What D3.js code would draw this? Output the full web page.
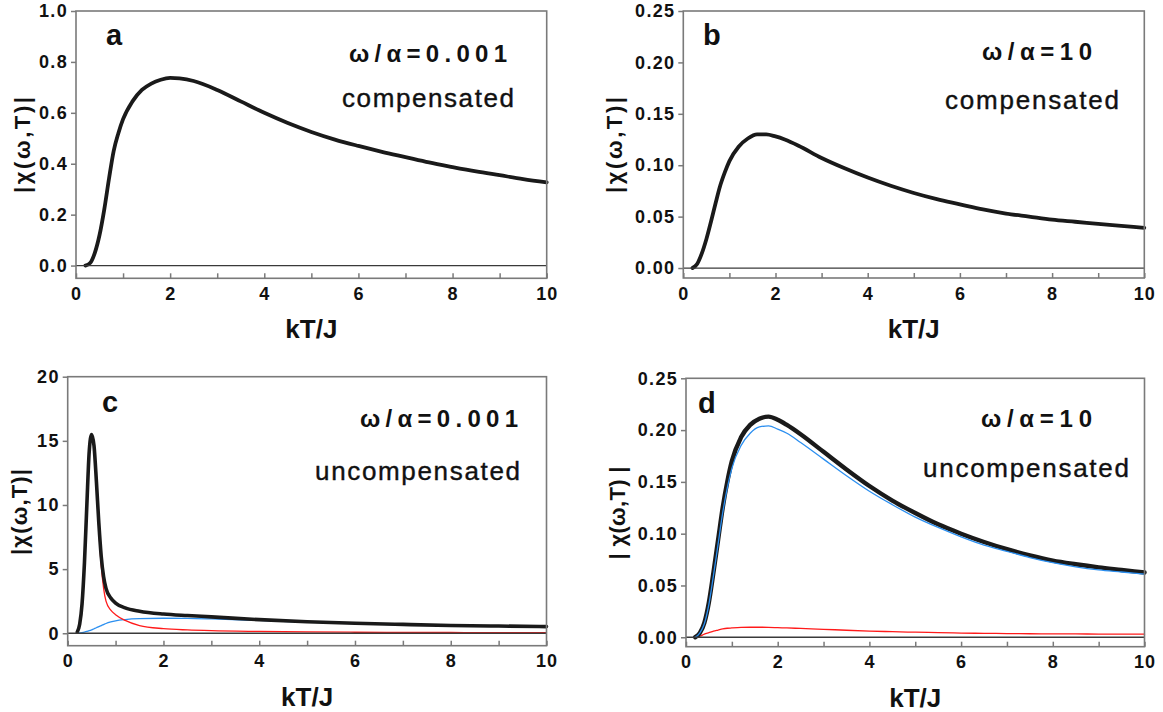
<!DOCTYPE html>
<html>
<head>
<meta charset="utf-8">
<script src="https://cdn.jsdelivr.net/npm/d3@7/dist/d3.min.js"></script>
<style>
  html, body { margin: 0; padding: 0; background: #fff; }
  svg { display: block; }
</style>
</head>
<body>
<svg id="chart" width="1163" height="712"></svg>
<script>
// ---------------- DATA ----------------
const xTicks = [0, 1, 2, 3, 4, 5, 6, 7, 8, 9, 10];
const xTickLabels = ["0", "", "2", "", "4", "", "6", "", "8", "", "10"];

const yTicksA = [0, 0.2, 0.4, 0.6, 0.8, 1.0];
const yTicksB = [0, 0.05, 0.10, 0.15, 0.20, 0.25];
const yTicksC = [0, 5, 10, 15, 20];
const yTicksD = [0, 0.05, 0.10, 0.15, 0.20, 0.25];

// panel a: compensated, w/a = 0.001
const xA = [0.2,0.3,0.4,0.5,0.6,0.7,0.8,0.9,1.0,1.2,1.4,1.6,1.8,2.0,2.2,2.5,3,3.5,4,4.5,5,5.5,6,6.5,7,7.5,8,8.5,9,9.5,10];
const yA = [0.0,0.01,0.05,0.12,0.22,0.34,0.45,0.52,0.575,0.645,0.69,0.715,0.73,0.737,0.735,0.725,0.69,0.645,0.60,0.56,0.525,0.495,0.47,0.447,0.426,0.405,0.387,0.37,0.355,0.34,0.327];

// panel b: compensated, w/a = 10
const xB = [0.2,0.3,0.4,0.5,0.6,0.7,0.8,0.9,1.0,1.2,1.4,1.6,1.8,2.0,2.2,2.5,3,3.5,4,4.5,5,5.5,6,6.5,7,7.5,8,8.5,9,9.5,10];
const yB = [0.0,0.004,0.014,0.028,0.045,0.063,0.080,0.093,0.104,0.118,0.126,0.130,0.130,0.128,0.125,0.119,0.107,0.097,0.088,0.080,0.073,0.067,0.062,0.057,0.053,0.050,0.047,0.045,0.043,0.041,0.039];

// panel c: uncompensated, w/a = 0.001
const xC = [0.2,0.25,0.3,0.35,0.4,0.45,0.5,0.55,0.6,0.65,0.7,0.75,0.8,0.9,1.0,1.2,1.5,2,2.5,3,4,5,6,7,8,9,10];
const cBlack = [0.1,0.7,2.3,5.5,10.0,14.2,15.5,14.6,11.8,8.6,6.0,4.4,3.5,2.75,2.35,1.98,1.72,1.5,1.38,1.28,1.06,0.9,0.78,0.69,0.61,0.56,0.52];
const cRed   = [0.1,0.7,2.3,5.5,10.0,14.2,15.4,14.4,11.4,8.1,5.3,3.5,2.5,1.8,1.45,1.0,0.6,0.36,0.26,0.2,0.14,0.1,0.08,0.07,0.06,0.05,0.05];
const cBlue  = [0.0,0.02,0.05,0.09,0.14,0.2,0.27,0.35,0.43,0.52,0.6,0.68,0.76,0.88,0.97,1.07,1.14,1.17,1.16,1.12,1.0,0.87,0.75,0.66,0.59,0.53,0.49];

// panel d: uncompensated, w/a = 10
const xD = [0.2,0.3,0.4,0.5,0.6,0.7,0.8,0.9,1.0,1.2,1.4,1.6,1.8,2.0,2.2,2.5,3,3.5,4,4.5,5,5.5,6,6.5,7,7.5,8,8.5,9,9.5,10];
const dBlack = [0.0,0.004,0.014,0.034,0.063,0.094,0.125,0.150,0.170,0.193,0.205,0.211,0.213,0.210,0.205,0.196,0.179,0.162,0.146,0.132,0.120,0.109,0.100,0.092,0.085,0.079,0.074,0.0705,0.0675,0.065,0.0625];
const dBlue  = [0.0,0.004,0.013,0.032,0.060,0.090,0.120,0.144,0.163,0.185,0.197,0.203,0.204,0.201,0.197,0.188,0.172,0.156,0.141,0.128,0.116,0.106,0.097,0.089,0.083,0.077,0.072,0.068,0.065,0.063,0.061];
const dRed   = [0.0,0.001,0.003,0.0045,0.006,0.007,0.008,0.0087,0.009,0.0095,0.0097,0.0097,0.0096,0.0093,0.009,0.0085,0.0077,0.0068,0.0060,0.0054,0.0049,0.0045,0.0041,0.0038,0.0036,0.0034,0.0033,0.0032,0.0031,0.003,0.003];

// ---------------- LAYOUT ----------------
const panels = [
  { x0: 76,  x1: 546.7, yTop: 11,    yBot: 278.3, yDomain: [-0.05, 1.0], yTicks: yTicksA, fmt: d3.format(".1f"),
    letter: "a", lx: 106, ly: 45, ylabel: "|χ(ω,T)|", ylx: 22, yly: 145, ylen: 96,
    t1: "ω/α=0.001", t1x: 349, t1y: 62, t1len: 158, t2: "compensated", t2x: 342, t2y: 107, t2len: 172,
    series: [{ x: xA, y: yA, color: "#1a1a1a", w: 3.8 }] },
  { x0: 683.3, x1: 1144.3, yTop: 11, yBot: 278, yDomain: [-0.0097, 0.25], yTicks: yTicksB, fmt: d3.format(".2f"),
    letter: "b", lx: 703, ly: 45, ylabel: "|χ(ω,T)|", ylx: 614, yly: 145, ylen: 96,
    t1: "ω/α=10", t1x: 982, t1y: 60, t1len: 110, t2: "compensated", t2x: 945, t2y: 109, t2len: 174,
    series: [{ x: xB, y: yB, color: "#1a1a1a", w: 3.8 }] },
  { x0: 67.7, x1: 546.5, yTop: 376.7, yBot: 645.7, yDomain: [-0.97, 20], yTicks: yTicksC, fmt: d3.format("d"),
    letter: "c", lx: 102, ly: 412, ylabel: "|χ(ω,T)|", ylx: 19, yly: 512, ylen: 86,
    t1: "ω/α=0.001", t1x: 360, t1y: 427, t1len: 158, t2: "uncompensated", t2x: 315, t2y: 480, t2len: 205,
    series: [{ x: xC, y: cBlue, color: "#2b8ff0", w: 1.3 },
             { x: xC, y: cRed, color: "#ff1a1a", w: 1.3 },
             { x: xC, y: cBlack, color: "#1a1a1a", w: 3.6 }] },
  { x0: 686, x1: 1144.5, yTop: 378.3, yBot: 646.7, yDomain: [-0.0091, 0.25], yTicks: yTicksD, fmt: d3.format(".2f"),
    letter: "d", lx: 698, ly: 413, ylabel: "| χ(ω,T) |", ylx: 617, yly: 513, ylen: 93,
    t1: "ω/α=10", t1x: 981, t1y: 427, t1len: 111, t2: "uncompensated", t2x: 923, t2y: 477, t2len: 206,
    series: [{ x: xD, y: dRed, color: "#ff1a1a", w: 1.3 },
             { x: xD, y: dBlack, color: "#1a1a1a", w: 4.4 },
             { x: xD, y: dBlue, color: "#2b8ff0", w: 1.3 }] }
];

const svg = d3.select("#chart");
const FONT = "'Liberation Sans', Arial, Helvetica, sans-serif";
const frameColor = "#7a7a7a";

panels.forEach(p => {
  const x = d3.scaleLinear().domain([0, 10]).range([p.x0, p.x1]);
  const y = d3.scaleLinear().domain(p.yDomain).range([p.yBot, p.yTop]);
  const g = svg.append("g");

  // curves
  const line = d3.line().x(d => x(d[0])).y(d => y(d[1])).curve(d3.curveMonotoneX);
  p.series.forEach(s => {
    g.append("path")
      .datum(s.x.map((v, i) => [v, s.y[i]]))
      .attr("fill", "none")
      .attr("stroke", s.color)
      .attr("stroke-width", s.w)
      .attr("stroke-linejoin", "round")
      .attr("stroke-linecap", "round")
      .attr("d", line);
  });

  // zero line
  g.append("line")
    .attr("x1", x(0)).attr("x2", x(10))
    .attr("y1", y(0)).attr("y2", y(0))
    .attr("stroke", "#3a3a3a").attr("stroke-width", 1.3);

  // frame
  g.append("rect")
    .attr("x", p.x0).attr("y", p.yTop)
    .attr("width", p.x1 - p.x0).attr("height", p.yBot - p.yTop)
    .attr("fill", "none").attr("stroke", frameColor).attr("stroke-width", 1.6);

  // y axis
  const ya = g.append("g").attr("transform", `translate(${p.x0},0)`)
    .call(d3.axisLeft(y).tickValues(p.yTicks).tickFormat(p.fmt).tickSizeInner(5).tickSizeOuter(0).tickPadding(3));
  ya.select(".domain").remove();
  ya.selectAll(".tick line").attr("stroke", frameColor).attr("stroke-width", 1.5);
  ya.selectAll(".tick text").attr("fill", "#111").style("font-family", FONT)
    .style("font-size", "18px").style("font-weight", "bold").style("letter-spacing", "1.3px");

  // x axis
  const xa = g.append("g").attr("transform", `translate(0,${p.yBot})`)
    .call(d3.axisBottom(x).tickValues(xTicks).tickFormat((d, i) => xTickLabels[i]).tickSizeInner(-5).tickSizeOuter(0).tickPadding(9));
  xa.select(".domain").remove();
  xa.selectAll(".tick line").attr("stroke", frameColor).attr("stroke-width", 1.5);
  xa.selectAll(".tick text").attr("fill", "#111").style("font-family", FONT)
    .style("font-size", "18px").style("font-weight", "bold").style("letter-spacing", "1px");

  // x label
  g.append("text")
    .attr("x", (p.x0 + p.x1) / 2).attr("y", p.yBot + 60)
    .attr("text-anchor", "middle")
    .style("font-family", FONT).style("font-size", "26px").style("font-weight", "bold")
    .attr("fill", "#111").text("kT/J");

  // y label
  g.append("text")
    .attr("transform", `translate(${p.ylx},${p.yly}) rotate(-90)`)
    .attr("text-anchor", "middle").attr("dominant-baseline", "central")
    .attr("textLength", p.ylen).attr("lengthAdjust", "spacing")
    .style("font-family", FONT).style("font-size", "22px").style("font-weight", "bold")
    .attr("fill", "#111").text(p.ylabel);

  // panel letter
  g.append("text")
    .attr("x", p.lx).attr("y", p.ly)
    .style("font-family", FONT).style("font-size", "29px").style("font-weight", "bold")
    .attr("fill", "#111").text(p.letter);

  // annotations
  g.append("text")
    .attr("x", p.t1x).attr("y", p.t1y)
    .attr("textLength", p.t1len).attr("lengthAdjust", "spacing")
    .style("font-family", FONT).style("font-size", "24px").style("font-weight", "bold")
    .attr("fill", "#111").text(p.t1);
  g.append("text")
    .attr("x", p.t2x).attr("y", p.t2y)
    .attr("textLength", p.t2len).attr("lengthAdjust", "spacing")
    .style("font-family", FONT).style("font-size", "26px")
    .style("stroke", "#111").style("stroke-width", "0.4px")
    .attr("fill", "#111").text(p.t2);
});
</script>
</body>
</html>
